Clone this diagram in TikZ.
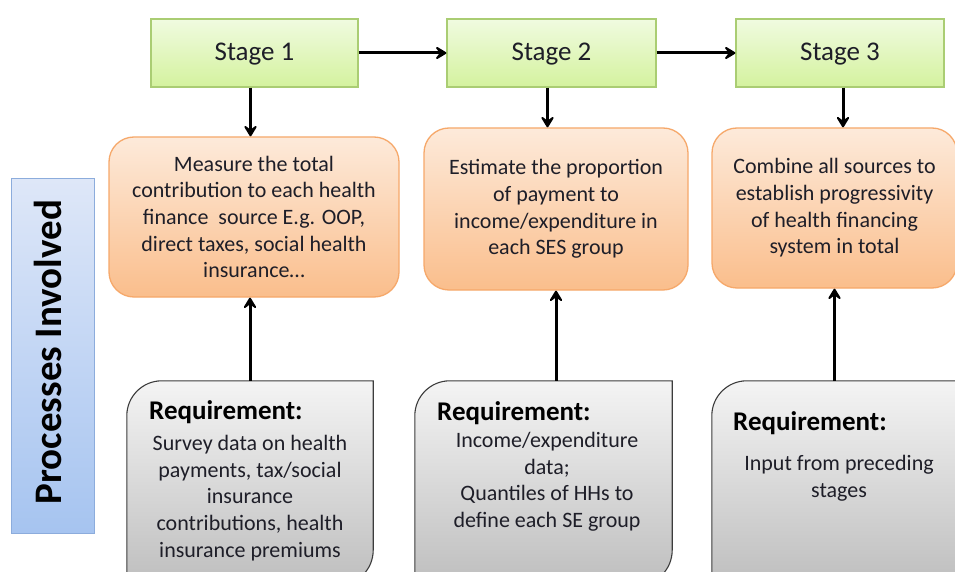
\documentclass[tikz,border=0pt]{standalone}
\usepackage{fontspec}
\setmainfont{Carlito}
\usetikzlibrary{arrows.meta}

\definecolor{txt}{RGB}{30,30,40}
\definecolor{stageline}{RGB}{170,205,115}
\definecolor{stagetop}{RGB}{240,251,224}
\definecolor{stagebot}{RGB}{212,242,158}
\definecolor{orangeline}{RGB}{246,168,106}
\definecolor{orangetop}{RGB}{253,234,218}
\definecolor{orangebot}{RGB}{250,190,140}
\definecolor{greyline}{RGB}{60,60,60}
\definecolor{greytop}{RGB}{244,244,244}
\definecolor{greybot}{RGB}{190,190,190}
\definecolor{blueline}{RGB}{140,172,220}
\definecolor{bluetop}{RGB}{222,231,248}
\definecolor{bluebot}{RGB}{166,196,240}

\tikzset{
  stagebox/.style={draw=stageline, line width=1.2pt, top color=stagetop, bottom color=stagebot,
    minimum height=68pt, inner sep=0pt, text height=15pt, text depth=0pt, text=txt,
    font=\fontsize{27}{32}\selectfont},
  taskbox/.style={draw=orangeline, line width=1.3pt, rounded corners=25pt, top color=orangetop,
    bottom color=orangebot, minimum height=160pt, inner sep=0pt, align=center, text=txt,
    font=\fontsize{22}{26.7}\selectfont},
  reqframe/.style={draw=none, minimum height=204pt, inner sep=0pt},
  reqshape/.style={draw=greyline, line width=1.1pt, top color=greytop, bottom color=greybot},
  reqhead/.style={anchor=base west, inner sep=0pt, text=black, font=\fontsize{27}{32}\selectfont\bfseries},
  reqbody/.style={anchor=north, inner sep=0pt, align=center, text=txt, font=\fontsize{22}{26.7}\selectfont},
  arr/.style={line width=3pt, black, -{Stealth[length=14pt,width=17pt,inset=6.5pt,round]}}
}

\begin{document}
\begin{tikzpicture}[x=1pt,y=1pt]
\clip (0,0) rectangle (955,571);
\fill[white] (0,0) rectangle (955,571);

% side banner
\node[draw=blueline, line width=1pt, top color=bluetop, bottom color=bluebot,
      minimum width=83pt, minimum height=354pt, inner sep=0pt] (side) at (52.5,215) {};
\node[rotate=90, inner sep=0pt, text=black, font=\fontsize{39}{44}\selectfont\bfseries]
      (sidelabel) at (48,219) {Processes Involved};

% stages
\node[stagebox, minimum width=207pt] (s1) at (254.5,518) {Stage 1};
\node[stagebox, minimum width=209pt] (s2) at (551.5,518) {Stage 2};
\node[stagebox, minimum width=208pt] (s3) at (840,518) {Stage 3};

% tasks
\node[taskbox, minimum width=290pt] (o1) at (254,354)
  {Measure the total\\contribution to each health\\finance\ \ source E.g. OOP,\\direct taxes, social health\\insurance…};
\node[taskbox, minimum width=264pt, minimum height=162pt] (o2) at (556,362)
  {Estimate the proportion\\of payment to\\income/expenditure in\\each SES group};
\node[taskbox, minimum width=245pt] (o3) at (834.5,363)
  {Combine all sources to\\establish progressivity\\of health financing\\system in total};

% requirement frames
\node[reqframe, minimum width=246pt] (g1) at (250,88) {};
\node[reqframe, minimum width=257pt] (g2) at (543.5,88) {};
\node[reqframe, minimum width=268pt] (g3) at (846,88) {};
\foreach \g in {g1,g2,g3}{
  \shadedraw[reqshape] (\g.south west) -- ([yshift=-35pt]\g.north west)
    arc[start angle=180, end angle=90, radius=35pt] -- (\g.north east)
    -- ([yshift=35pt]\g.south east) arc[start angle=0, end angle=-90, radius=35pt] -- cycle;
}

\node[reqhead] (r1) at (149,152) {Requirement:};
\node[reqbody] (b1) at (250,136)
  {Survey data on health\\payments, tax/social\\insurance\\contributions, health\\insurance premiums};
\node[reqhead] (r2) at (437,151) {Requirement:};
\node[reqbody] (b2) at (547,139)
  {Income/expenditure\\data;\\Quantiles of HHs to\\define each SE group};
\node[reqhead] (r3) at (733,141) {Requirement:};
\node[reqbody] (b3) at (839,116)
  {Input from preceding\\stages};

% connectors
\draw[arr] (s1.east) -- (s2.west);
\draw[arr] (s2.east) -- (s3.west);
\draw[arr] ([xshift=-4pt]s1.south) -- ([xshift=-4pt]s1.south |- o1.north);
\draw[arr] ([xshift=-4pt]s2.south) -- ([xshift=-4pt]s2.south |- o2.north);
\draw[arr] ([xshift=3pt]s3.south) -- ([xshift=3pt]s3.south |- o3.north);
\draw[arr] (g1.north) -- (g1.north |- o1.south);
\draw[arr] (o2.south |- g2.north) -- (o2.south);
\draw[arr] (o3.south |- g3.north) -- (o3.south);
\end{tikzpicture}
\end{document}
